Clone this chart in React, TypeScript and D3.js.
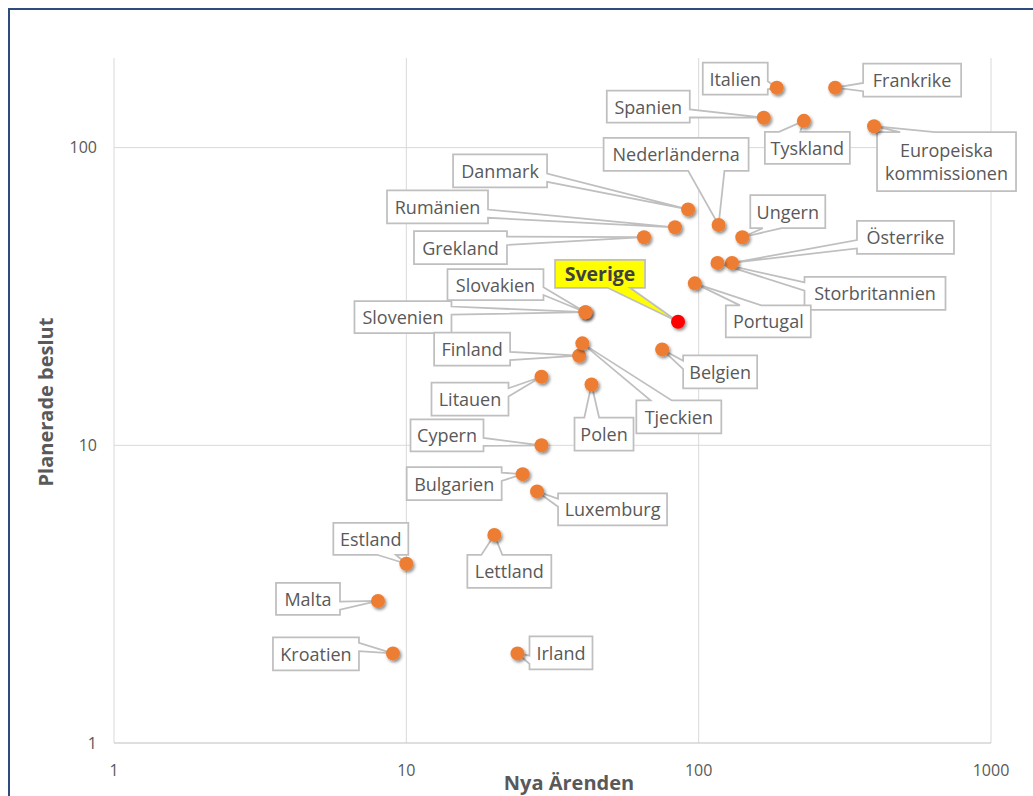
import { scaleLog } from "d3";

// data
const countries = [
  "Italien", "Frankrike", "Spanien", "Tyskland", "Europeiska kommissionen",
  "Nederländerna", "Danmark", "Ungern", "Rumänien", "Grekland",
  "Österrike", "Storbritannien", "Sverige", "Slovakien", "Slovenien",
  "Portugal", "Finland", "Belgien", "Litauen", "Tjeckien",
  "Polen", "Cypern", "Bulgarien", "Luxemburg", "Estland",
  "Lettland", "Malta", "Kroatien", "Irland",
];
const nyaArenden = [
  185, 293, 167, 229, 398,
  117, 92, 141, 83, 65,
  130, 116, 85, 41, 41,
  97, 39, 75, 29, 40,
  43, 29, 25, 28, 10,
  20, 8, 9, 24,
];
const planeradeBeslut = [
  159, 159, 126, 123, 118,
  55, 62, 50, 54, 50,
  41, 41, 26, 28, 28,
  35, 20, 21, 17, 22,
  16, 10, 8, 7, 4,
  5, 3, 2, 2,
];
const xTicks = [1, 10, 100, 1000];
const yTicks = [1, 10, 100];
const highlight = "Sverige";

// callout layout: box centre offset from the point, box size
const labelLayout: Record<string, [number, number, number, number]> = {
  Italien: [-41.5, -9, 65, 32],
  Frankrike: [77, -7.5, 98, 33],
  Spanien: [-115.5, -11, 83, 32],
  Tyskland: [3.5, 27, 85, 32],
  "Europeiska kommissionen": [72.5, 35.5, 139, 59],
  Nederländerna: [-42.5, -70.5, 145, 33],
  Danmark: [-188, -38.5, 94, 33],
  Ungern: [45.5, -25.5, 75, 33],
  Rumänien: [-237.5, -20.5, 101, 33],
  Grekland: [-183.5, 10.5, 93, 33],
  Österrike: [173.5, -25.5, 97, 33],
  Storbritannien: [157.5, 30.5, 141, 33],
  Sverige: [-78, -48, 90, 28],
  Slovakien: [-90, -27.5, 96, 31],
  Slovenien: [-182.5, 5, 97, 32],
  Portugal: [73.5, 38, 85, 32],
  Finland: [-107, -6.5, 76, 33],
  Belgien: [58, 22.5, 74, 33],
  Litauen: [-71.5, 22.5, 77, 33],
  Tjeckien: [96.5, 73.5, 85, 33],
  Polen: [12.5, 49.5, 59, 33],
  Cypern: [-94.5, -10, 73, 32],
  Bulgarien: [-68.5, 9.5, 95, 33],
  Luxemburg: [75.5, 18, 109, 32],
  Estland: [-35.5, -25, 75, 32],
  Lettland: [15, 36.5, 84, 33],
  Malta: [-70, -2, 64, 32],
  Kroatien: [-77, 0.5, 86, 33],
  Irland: [43.5, -0.5, 63, 33],
};

const W = 1033;
const H = 796;
const plot = { left: 114, right: 991, top: 58, bottom: 743 };
const font = "'Open Sans', 'Noto Sans', sans-serif";
const textGray = "#595959";

const x = scaleLog().domain([1, 1000]).range([plot.left, plot.right]);
const y = scaleLog().domain([1, 200]).range([plot.bottom, plot.top]);

// rectangle with a wedge pointing at (px, py), like Excel's wedgeRectCallout
function calloutPath(cx: number, cy: number, w: number, h: number, px: number, py: number) {
  const l = cx - w / 2, r = cx + w / 2, t = cy - h / 2, b = cy + h / 2;
  const dx = px - cx, dy = py - cy;
  const vertical = Math.abs(dy) > Math.abs(dx) * (h / w);
  const fx = dx > 0 ? [7 / 12, 10 / 12] : [2 / 12, 5 / 12];
  const fy = dy > 0 ? [7 / 12, 10 / 12] : [2 / 12, 5 / 12];
  const pts: [number, number][] = [[l, t]];
  if (vertical && dy < 0) pts.push([l + w * fx[0], t], [px, py], [l + w * fx[1], t]);
  pts.push([r, t]);
  if (!vertical && dx > 0) pts.push([r, t + h * fy[0]], [px, py], [r, t + h * fy[1]]);
  pts.push([r, b]);
  if (vertical && dy > 0) pts.push([l + w * fx[1], b], [px, py], [l + w * fx[0], b]);
  pts.push([l, b]);
  if (!vertical && dx < 0) pts.push([l, t + h * fy[1]], [px, py], [l, t + h * fy[0]]);
  return "M" + pts.map((p) => p.join(",")).join("L") + "Z";
}

export default function App() {
  const points = countries.map((name, i) => ({
    name,
    px: x(nyaArenden[i]),
    py: y(planeradeBeslut[i]),
  }));

  return (
    <svg
      width={W}
      height={H}
      style={{ position: "fixed", left: 0, top: 0, background: "#fff" }}
      fontFamily={font}
    >
      <defs>
        <filter id="shadow" x="-50%" y="-50%" width="200%" height="200%">
          <feDropShadow dx="1.5" dy="2" stdDeviation="1.5" floodColor="#000" floodOpacity="0.45" />
        </filter>
      </defs>
      <rect x={0} y={0} width={W} height={H} fill="#fff" />
      <rect x={9} y={9} width={W + 20} height={H + 20} fill="none" stroke="#2f4b7c" strokeWidth={2} />

      {/* grid */}
      {xTicks.map((t) => (
        <line key={"gx" + t} x1={x(t)} x2={x(t)} y1={plot.top} y2={plot.bottom} stroke="#d9d9d9" />
      ))}
      {yTicks.map((t) => (
        <line key={"gy" + t} x1={plot.left} x2={plot.right} y1={y(t)} y2={y(t)} stroke={t === 1 ? "#bfbfbf" : "#d9d9d9"} />
      ))}

      {/* tick labels */}
      {xTicks.map((t) => (
        <text key={"tx" + t} x={x(t)} y={770} dy="0.35em" textAnchor="middle" fontSize={16} fill={textGray}>
          {t}
        </text>
      ))}
      {yTicks.map((t) => (
        <text key={"ty" + t} x={97} y={y(t)} dy="0.35em" textAnchor="end" fontSize={16} fill={textGray}>
          {t}
        </text>
      ))}

      {/* axis titles */}
      <text x={569} y={790} textAnchor="middle" fontSize={20} fontWeight="bold" fill={textGray}>
        Nya Ärenden
      </text>
      <text
        transform={`translate(53,402) rotate(-90)`}
        textAnchor="middle"
        fontSize={20}
        fontWeight="bold"
        fill={textGray}
      >
        Planerade beslut
      </text>

      {/* callouts */}
      {points.map((p) => {
        const [ox, oy, w, h] = labelLayout[p.name];
        const cx = p.px + ox;
        const cy = p.py + oy;
        const hi = p.name === highlight;
        const lines = p.name === "Europeiska kommissionen" ? ["Europeiska", "kommissionen"] : [p.name];
        return (
          <g key={"c" + p.name}>
            <path
              d={calloutPath(cx, cy, w, h, p.px, p.py)}
              fill={hi ? "#ffff00" : "#fff"}
              stroke="#bfbfbf"
              strokeWidth={1.75}
              strokeLinejoin="miter"
            />
            {lines.map((ln, k) => (
              <text
                key={k}
                x={cx}
                y={cy + (k - (lines.length - 1) / 2) * 23 + 0.5}
                dy="0.36em"
                textAnchor="middle"
                fontSize={hi ? 19.5 : 18}
                fontWeight={hi ? "bold" : "normal"}
                fill={hi ? "#404040" : textGray}
              >
                {ln}
              </text>
            ))}
          </g>
        );
      })}

      {/* markers */}
      {points.map((p) => (
        <circle
          key={"m" + p.name}
          cx={p.px}
          cy={p.py}
          r={7}
          fill={p.name === highlight ? "#ff0000" : "#ed7d31"}
          filter="url(#shadow)"
        />
      ))}
    </svg>
  );
}
